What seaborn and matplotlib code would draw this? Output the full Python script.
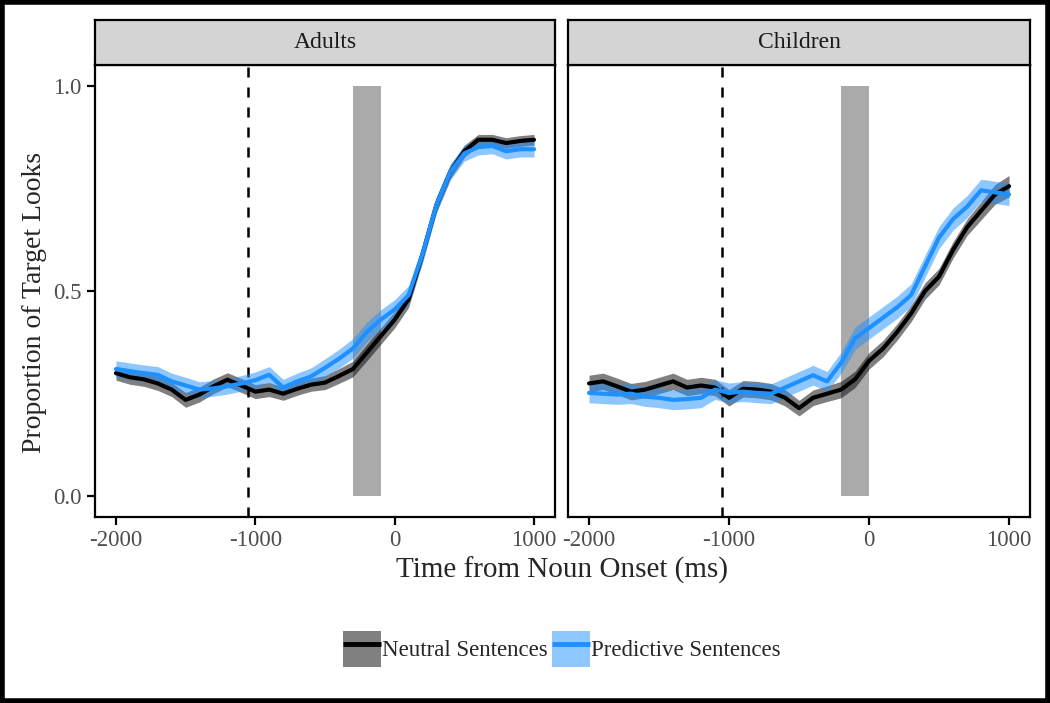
import numpy as np
import pandas as pd
import matplotlib
matplotlib.use('Agg')
import matplotlib.pyplot as plt
import matplotlib.patches as mpatches
from matplotlib.lines import Line2D
import seaborn as sns

# time bins (ms from noun onset)
time = list(range(-2000, 1001, 100))

# Adults
adults_neutral = [0.300, 0.290, 0.285, 0.275, 0.260, 0.235, 0.248, 0.268, 0.284, 0.270,
                  0.255, 0.260, 0.250, 0.262, 0.272, 0.277, 0.293, 0.310, 0.350, 0.390,
                  0.430, 0.480, 0.590, 0.710, 0.790, 0.840, 0.868, 0.868, 0.860, 0.865, 0.868]
adults_neutral_se = [0.017, 0.017, 0.017, 0.017, 0.017, 0.018, 0.018, 0.018, 0.017, 0.017,
                     0.017, 0.017, 0.016, 0.016, 0.016, 0.017, 0.018, 0.019, 0.020, 0.020,
                     0.020, 0.020, 0.019, 0.018, 0.017, 0.015, 0.013, 0.013, 0.013, 0.013, 0.013]
adults_predictive = [0.310, 0.305, 0.300, 0.296, 0.280, 0.270, 0.260, 0.263, 0.268, 0.275,
                     0.283, 0.296, 0.265, 0.280, 0.292, 0.313, 0.335, 0.360, 0.400, 0.430,
                     0.455, 0.490, 0.590, 0.710, 0.790, 0.835, 0.850, 0.853, 0.840, 0.845, 0.845]
adults_predictive_se = [0.020, 0.020, 0.020, 0.020, 0.020, 0.020, 0.019, 0.019, 0.019, 0.019,
                        0.020, 0.020, 0.020, 0.020, 0.021, 0.022, 0.023, 0.024, 0.024, 0.024,
                        0.024, 0.023, 0.021, 0.020, 0.019, 0.019, 0.019, 0.019, 0.019, 0.019, 0.019]

# Children
children_neutral = [0.275, 0.280, 0.268, 0.255, 0.260, 0.270, 0.280, 0.265, 0.270, 0.265,
                    0.240, 0.262, 0.260, 0.255, 0.240, 0.215, 0.240, 0.250, 0.260, 0.285,
                    0.330, 0.360, 0.400, 0.445, 0.500, 0.535, 0.600, 0.655, 0.695, 0.735, 0.755]
children_neutral_se = [0.020, 0.020, 0.020, 0.020, 0.020, 0.020, 0.020, 0.020, 0.020, 0.020,
                       0.020, 0.020, 0.020, 0.020, 0.020, 0.019, 0.019, 0.019, 0.020, 0.020,
                       0.020, 0.020, 0.020, 0.020, 0.020, 0.020, 0.020, 0.020, 0.022, 0.024, 0.026]
children_predictive = [0.252, 0.250, 0.248, 0.250, 0.243, 0.240, 0.235, 0.237, 0.240, 0.260,
                       0.252, 0.255, 0.252, 0.250, 0.265, 0.280, 0.295, 0.280, 0.325, 0.385,
                       0.410, 0.435, 0.460, 0.490, 0.560, 0.630, 0.675, 0.705, 0.745, 0.740, 0.735]
children_predictive_se = [0.024, 0.024, 0.024, 0.024, 0.024, 0.024, 0.024, 0.024, 0.024, 0.024,
                          0.024, 0.024, 0.024, 0.024, 0.024, 0.024, 0.024, 0.024, 0.026, 0.027,
                          0.027, 0.027, 0.027, 0.027, 0.027, 0.027, 0.027, 0.027, 0.027, 0.027, 0.027]

groups = ['Adults', 'Children']
conditions = ['Neutral Sentences', 'Predictive Sentences']
verb_onset = [-1050, -1050]
window_start = [-300, -200]
window_end = [-100, 0]

rows = []
series = {
    ('Adults', 'Neutral Sentences'): (adults_neutral, adults_neutral_se),
    ('Adults', 'Predictive Sentences'): (adults_predictive, adults_predictive_se),
    ('Children', 'Neutral Sentences'): (children_neutral, children_neutral_se),
    ('Children', 'Predictive Sentences'): (children_predictive, children_predictive_se),
}
for (g, c), (vals, se) in series.items():
    for t, v, s in zip(time, vals, se):
        rows.append({'group': g, 'condition': c, 'time': t, 'prop': v,
                     'lower': v - s, 'upper': v + s})
df = pd.DataFrame(rows)

line_colors = {'Neutral Sentences': 'black', 'Predictive Sentences': '#1E90FF'}
band_colors = {'Neutral Sentences': '#000000', 'Predictive Sentences': '#1E90FF'}

sns.set_style('white')
plt.rcParams['font.family'] = ['Liberation Serif', 'DejaVu Serif']
plt.rcParams['axes.unicode_minus'] = False

fig = plt.figure(figsize=(10.5, 7.03), dpi=100)
ax_pos = [[0.0905, 0.2646, 0.438, 0.643], [0.541, 0.2646, 0.440, 0.643]]
strip_h = 0.064

axes = []
for i, g in enumerate(groups):
    ax = fig.add_axes(ax_pos[i])
    axes.append(ax)
    sub = df[df['group'] == g]
    # highlighted window
    ax.axvspan(window_start[i], window_end[i], ymin=0.05 / 1.1, ymax=1.05 / 1.1,
               color='#AAAAAA', lw=0, zorder=1)
    ax.axvline(verb_onset[i], color='black', ls=(0, (4, 4)), lw=1.8, zorder=1)
    for c in conditions:
        s = sub[sub['condition'] == c]
        ax.fill_between(s['time'], s['lower'], s['upper'], color=band_colors[c],
                        alpha=0.5, lw=0, zorder=2)
    sns.lineplot(data=sub, x='time', y='prop', hue='condition', palette=line_colors,
                 linewidth=3, legend=False, ax=ax, zorder=3)
    ax.set_xlim(-2150, 1150)
    ax.set_ylim(-0.05, 1.05)
    ax.set_xticks([-2000, -1000, 0, 1000])
    ax.set_yticks([0.0, 0.5, 1.0])
    ax.set_xlabel('')
    ax.set_ylabel('')
    for sp in ax.spines.values():
        sp.set_color('black')
        sp.set_linewidth(1.6)
    ax.tick_params(axis='both', direction='out', length=6, width=1.6, color='black',
                   labelsize=16.5, labelcolor='#4D4D4D', bottom=True, left=(i == 0))
    if i == 1:
        ax.set_yticklabels([])
    else:
        ax.set_yticklabels(['0.0', '0.5', '1.0'])

    # facet strip
    p = ax_pos[i]
    sax = fig.add_axes([p[0], p[1] + p[3], p[2], strip_h])
    sax.set_facecolor('#D4D4D4')
    sax.set_xticks([])
    sax.set_yticks([])
    for sp in sax.spines.values():
        sp.set_color('black')
        sp.set_linewidth(1.6)
    sax.text(0.5, 0.5, g, ha='center', va='center', fontsize=17, color='#1A1A1A',
             transform=sax.transAxes)

fig.text(0.535, 0.188, 'Time from Noun Onset (ms)', ha='center', va='center', fontsize=21)
fig.text(0.033, 0.57, 'Proportion of Target Looks', ha='center', va='center',
         fontsize=20, rotation=90)

handles = [
    (mpatches.Patch(facecolor='#808080', edgecolor='none'),
     Line2D([], [], color='black', lw=3.5, solid_capstyle='butt')),
    (mpatches.Patch(facecolor='#8FC7FF', edgecolor='none'),
     Line2D([], [], color='#1E90FF', lw=3.5, solid_capstyle='butt')),
]
fig.legend(handles, conditions, loc='center', bbox_to_anchor=(0.535, 0.077), ncol=2,
           frameon=False, fontsize=16.5, handlelength=1.65, handleheight=2.0,
           handletextpad=0.05, columnspacing=0.2, borderaxespad=0)

fig.patches.append(mpatches.Rectangle((0.002, 0.003), 0.996, 0.994, fill=False, lw=4,
                                      edgecolor='black', transform=fig.transFigure,
                                      figure=fig))

fig.savefig('out.png', dpi=100, facecolor='white')
